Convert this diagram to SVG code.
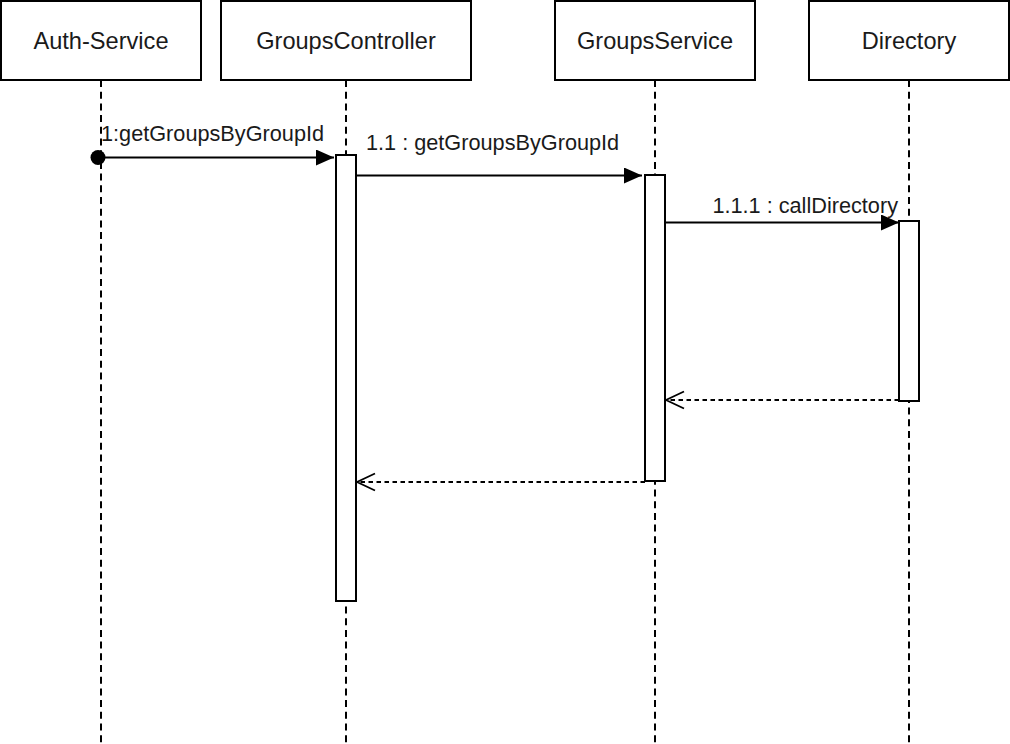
<svg xmlns="http://www.w3.org/2000/svg" width="1010" height="744" viewBox="0 0 1010 744">
<style>
.box{fill:#fff;stroke:#000;stroke-width:2}
.life{stroke:#000;stroke-width:2;stroke-dasharray:7 4.7;fill:none}
.act{fill:#fff;stroke:#000;stroke-width:2}
.msg{stroke:#000;stroke-width:1.8;fill:none}
.ret{stroke:#000;stroke-width:1.8;fill:none;stroke-dasharray:4.5 3.5}
.hdr{font-family:"Liberation Sans",Arial,sans-serif;font-size:23.6px;fill:#1a1a1a;text-anchor:middle}
.lbl{font-family:"Liberation Sans",Arial,sans-serif;font-size:21.7px;fill:#1a1a1a}
</style>
<defs>
<marker id="filled" viewBox="0 0 18 16" refX="18" refY="8" markerWidth="18" markerHeight="16" markerUnits="userSpaceOnUse" orient="auto">
<path d="M0,0 L18,8 L0,16 Z" fill="#000"/>
</marker>
<marker id="open" viewBox="0 0 20 20" refX="19" refY="10" markerWidth="20" markerHeight="20" markerUnits="userSpaceOnUse" orient="auto">
<path d="M1,1.5 L19,10 L1,18.5" fill="none" stroke="#000" stroke-width="1.8"/>
</marker>
</defs>
<g id="lifelines">
<line class="life" x1="101" y1="80" x2="101" y2="744"/>
<line class="life" x1="346" y1="80" x2="346" y2="744"/>
<line class="life" x1="655" y1="80" x2="655" y2="744"/>
<line class="life" x1="909" y1="80" x2="909" y2="744"/>
</g>
<g id="auth-service">
<rect class="box" x="1" y="1" width="200" height="79"/>
<text class="hdr" x="101" y="49">Auth-Service</text>
</g>
<g id="groups-controller">
<rect class="box" x="221" y="1" width="250" height="79"/>
<text class="hdr" x="346" y="49">GroupsController</text>
<rect class="act" x="336" y="155" width="20" height="446"/>
</g>
<g id="groups-service">
<rect class="box" x="555" y="1" width="200" height="79"/>
<text class="hdr" x="655" y="49">GroupsService</text>
<rect class="act" x="645" y="175" width="20" height="306"/>
</g>
<g id="directory">
<rect class="box" x="809" y="1" width="200" height="79"/>
<text class="hdr" x="909" y="49">Directory</text>
<rect class="act" x="899" y="221" width="20" height="180"/>
</g>
<g id="connectors">
<circle cx="98" cy="157.5" r="7.5" fill="#000"/>
<line class="msg" x1="98" y1="157.5" x2="334" y2="157.5" marker-end="url(#filled)"/>
<text class="lbl" x="101" y="141">1:getGroupsByGroupId</text>
<line class="msg" x1="356" y1="175.5" x2="642" y2="175.5" marker-end="url(#filled)"/>
<text class="lbl" x="366" y="150">1.1 : getGroupsByGroupId</text>
<line class="msg" x1="665" y1="222.5" x2="899" y2="222.5" marker-end="url(#filled)"/>
<text class="lbl" x="898" y="213" text-anchor="end">1.1.1 : callDirectory</text>
<line class="ret" x1="899" y1="400" x2="666" y2="400" marker-end="url(#open)"/>
<line class="ret" x1="645" y1="482" x2="357" y2="482" marker-end="url(#open)"/>
</g>
</svg>
